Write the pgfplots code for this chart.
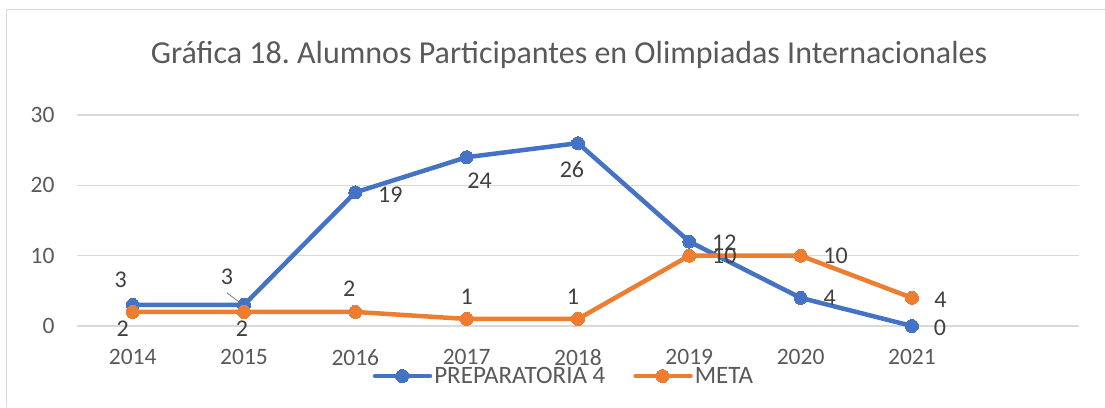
\documentclass[border=0pt]{standalone}
\usepackage{pgfplots}
\pgfplotsset{compat=1.18}
\usepackage{pgfplotstable}
\usepackage{fontspec}
\setmainfont{Carlito}
\frenchspacing
\definecolor{blu}{HTML}{4472C4}
\definecolor{org}{HTML}{ED7D31}
\definecolor{tickc}{HTML}{595959}
\definecolor{labc}{HTML}{404040}
\definecolor{gridc}{HTML}{D9D9D9}
\pgfkeys{/pgf/number format/assume math mode=true}

\pgfplotstableread{
x y dx dy
0 3 -12 25
1 3 -17 28
2 19 35 -2.5
3 24 13 -23.5
4 26 -6 -26.5
5 12 35 -1
6 4 29 0
7 0 28 -1.5
}\prep
\pgfplotstableread{
x y dx dy
0 2 -10 -17
1 2 -2 -17
2 2 -6 23.5
3 1 0 22.5
4 1 -5 22
5 10 35 0
6 10 35 0
7 4 28.5 -1.5
}\meta

\begin{document}
\begin{tikzpicture}
\path[use as bounding box] (0,0) rectangle (1105pt,407pt);
\draw[gridc, line width=1.5pt] (6.5pt,0) -- (6.5pt,397.5pt) -- (1105pt,397.5pt);
\node[text=tickc, font=\fontsize{32}{38}\selectfont] at (569pt,352pt) {Gráfica 18. Alumnos Participantes en Olimpiadas Internacionales};
\begin{axis}[
  at={(77pt,81pt)}, anchor=south west,
  scale only axis, width=1002pt, height=211pt,
  xmin=-0.5, xmax=8.5, ymin=0, ymax=30,
  xtick={0,...,7},
  xticklabels={2014,2015,2016,2017,2018,2019,2020,2021},
  ytick={0,10,20,30},
  ymajorgrids, grid style={gridc, line width=1.3pt},
  axis line style={draw=none},
  major tick length=0pt,
  tick label style={text=tickc, font=\fontsize{23.5}{28}\selectfont},
  yticklabel style={xshift=-19pt},
  xticklabel style={yshift=-20pt},
  clip=false,
  legend columns=2,
  legend style={draw=none, at={(0.486,-0.237)}, anchor=center, font=\fontsize{25}{30}\selectfont, text=tickc, inner sep=0pt, /tikz/every even column/.append style={column sep=26pt}},
  legend image code/.code={\draw[#1, mark repeat=2, mark phase=2] plot coordinates {(0pt,0pt) (27pt,0pt) (55pt,0pt)};},
  visualization depends on={\thisrow{dx} \as \dx},
  visualization depends on={\thisrow{dy} \as \dy},
  nodes near coords,
  nodes near coords style={anchor=center, xshift=\dx pt, yshift=\dy pt, text=labc, font=\fontsize{24}{28}\selectfont},
]
\addplot[blu, line width=4.5pt, line join=round, line cap=round, mark=*, mark size=6.5pt, mark options={solid, fill=blu, draw=blu, line width=0pt}] table[x=x, y=y] {\prep};
\addlegendentry{PREPARATORIA 4}
\addplot[org, line width=4.5pt, line join=round, line cap=round, mark=*, mark size=6.5pt, mark options={solid, fill=org, draw=org, line width=0pt}] table[x=x, y=y] {\meta};
\addlegendentry{META}
\draw[gray, line width=0.8pt] ([xshift=-17pt, yshift=12pt]axis cs:1,3) -- ([xshift=-1pt, yshift=0pt]axis cs:1,3);
\end{axis}
\end{tikzpicture}
\end{document}
